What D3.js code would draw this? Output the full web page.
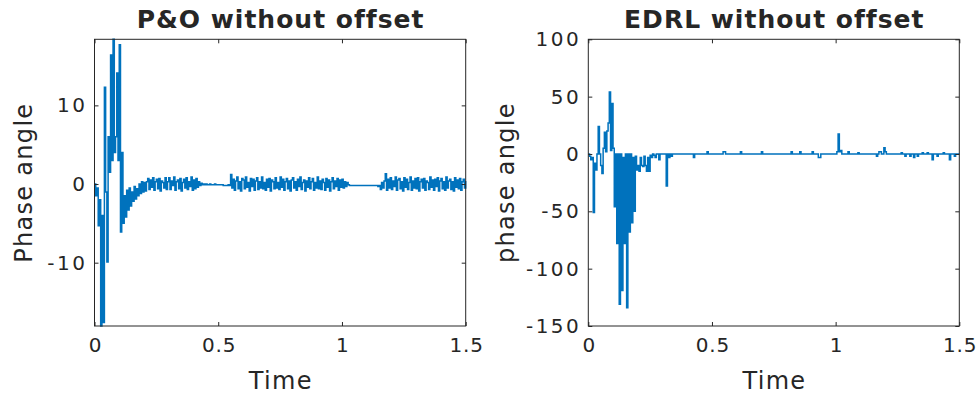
<!DOCTYPE html>
<html>
<head>
<meta charset="utf-8">
<script src="https://cdn.jsdelivr.net/npm/d3@7"></script>
<style>
  body { margin: 0; background: #fff; }
  text { font-family: 'DejaVu Sans', sans-serif; fill: #262626; }
</style>
</head>
<body>
<svg id="chart" width="978" height="398"></svg>
<script>
// sampled every 5 ms, t = 0 .. 1.5 s
const sampleStep = 0.005;
const timeTicks = [0, 0.5, 1, 1.5];
const poTicks = [-10, 0, 10];
const edrlTicks = [-150, -100, -50, 0, 50, 100];

const poPhase = [
  0, -1.5, -0.5, -5.3, -2, -18.05, -4, -17.6, 12.3, -1, -9.9, 6, 1.5, 16.4, 3, 18.4, 4, 6, 14.1, 3,
  17.7, -6.1, 4, -5, -1.5, -4.2, -0.8, -3.3, -0.5, -2.8, -1, -2.2, -0.3, -1.9, -0.6, -1.5, 0, -1.2, 0.3, -1,
  0.2, -0.9, 0.3, 0.7, -0.7, 0.5, -0.4, 0.8, -0.8, 0.3, 0.6, -0.6, 0.7, -0.9, 0.4, 0.2, -0.5, 0.8, -0.7, 0.3,
  0.8, -0.7, 0.4, -0.2, 0.9, -0.8, 0.3, 0.5, -0.6, 0.7, -0.9, 0.2, 0.6, -0.5, 0.8, -0.7, 0.3, -0.3, 0.9, -0.8,
  0.5, -0.6, 0.7, -0.4, 0.3, -0.2, 0.1, -0.1, 0, -0.1, 0, -0.1, -0.1, 0, -0.1, -0.1, -0.1, 0, -0.1, -0.1,
  -0.1, -0.1, -0.1, -0.1, -0.2, -0.2, -0.2, -0.2, -0.1, -0.2, 1.2, -0.5, 0.6, -0.8, 0.4, 0.9, -0.6, 0.3, -0.9, 0.7,
  0.5, -0.6, 0.9, -0.4, 0.2, -0.9, 0.7, -0.3, 0.6, -0.8, 0.4, 0.8, -0.7, 0.3, -0.5, 0.9, -0.6, 0.2, -0.8, 0.6,
  -0.4, 0.7, -0.9, 0.5, 0.3, -0.6, 0.8, -0.5, 0.2, -0.7, 0.9, -0.4, 0.6, -0.8, 0.3, 0.7, -0.6, 0.4, -0.9, 0.5,
  0.8, -0.5, 0.3, -0.8, 0.6, -0.3, 0.9, -0.7, 0.2, 0.5, -0.9, 0.4, -0.4, 0.8, -0.6, 0.3, 0.7, -0.8, 0.2, -0.5,
  0.9, -0.6, 0.4, -0.7, 0.6, 0.2, -0.8, 0.7, -0.4, 0.5, -0.9, 0.3, 0.8, -0.6, 0.4, -0.3, 0.7, -0.8, 0.5, -0.4,
  0.6, -0.5, 0.3, -0.3, 0.2, -0.1, -0.2, -0.2, -0.2, -0.2, -0.2, -0.2, -0.2, -0.2, -0.2, -0.2, -0.2, -0.2, -0.2, -0.2,
  -0.2, -0.2, -0.2, -0.2, -0.2, -0.2, -0.2, -0.2, -0.2, -0.3, -0.2, -0.7, 0.2, -0.5, 0.4, 1.3, -0.8, 0.6, -0.5, 0.8,
  -0.7, 0.4, -0.3, 0.9, -0.8, 0.5, 0.7, -0.6, 0.3, -0.9, 0.8, -0.4, 0.6, -0.7, 0.2, 0.9, -0.8, 0.4, -0.5, 0.7,
  -0.6, 0.8, -0.9, 0.3, 0.6, -0.5, 0.7, -0.8, 0.4, 0.2, -0.7, 0.9, -0.4, 0.5, -0.8, 0.6, -0.3, 0.8, -0.9, 0.4,
  0.7, -0.6, 0.3, -0.8, 0.9, -0.5, 0.4, 0.6, -0.7, 0.3, -0.9, 0.8, -0.4, 0.5, -0.6, 0.7, -0.8, 0.3, 0.6, -0.5,
  0.4,
];

const edrlPhase = [
  0, -2, -5, -3, -51, -8, -14, 0, 24, 0, -10, -17, 5, 19, 2, 20, 27, 54, 3, 44,
  5, -46, 0, -78, 0, -131, 0, -119, -3, -78, 0, -134, 0, -68, 0, -60, -3, -50, -2, -14,
  -10, -15, -3, -10, -11, -2, -10, -15, -3, -15, -1, -3, 0, -1, -3, 0, 0, -5, 0, 0,
  0, 0, 0, -28, 0, -3, 0, -2, 0, 0, 0, 0, 0, 0, 0, 0, 0, 0, 0, 0,
  0, 0, 0, 0, 0, -3, 0, 0, 0, 0, 0, 0, 0, 0, 0, 0, 2, 0, 0, 0,
  0, 0, 0, 0, 0, 0, 0, 0, 0, 2, 2, 0, 0, 0, 0, 0, 0, 0, 0, 0,
  0, 0, 0, 2, 0, 0, 0, 0, 0, 0, 0, 0, 0, 0, 0, 0, 0, 0, 0, 0,
  2, 0, 0, 0, 0, 0, 0, 0, 0, 0, 0, 0, 0, 0, 0, 0, 0, 0, 0, 0,
  0, 0, 0, 0, 2, 0, 0, 0, 0, 0, 0, 2, 0, 0, 0, 0, 0, 0, 0, 0,
  0, 2, 0, 0, 0, 0, -3, -3, 0, 0, 0, 0, 0, 0, 0, 0, 0, 0, 0, 0,
  0, 2, 17.5, 2, 3, 0, 0, 0, 0, 0, 2, 0, 0, 0, 0, 0, 0, 0, 1, 0,
  0, 0, 0, 0, 0, 0, 0, 0, 0, 0, 0, 0, 0, -2, 0, 2, 2, 0, 0, 5.5,
  2, 0, 0, 0, 0, 0, 0, 0, 0, 0, 0, 0, 0, 1, 0, 0, -2, 0, 0, 0,
  -2, 0, 0, -3, 0, 0, -2, 0, 0, 0, 1, 0, 0, 0, 1, 0, 0, 0, -5, 0,
  0, 0, -2, 0, 0, 0, 0, 1, 0, 0, 0, 0, -5, 0, 0, 0, -2, 0, 0, 0,
  0,
];

const lineColor = '#0072bd';
const axisColor = '#262626';
const tickFont = 20;
const yTickSpacing = 2.5;
const xTickSpacing = 0.8;
const labelFont = 24;
const labelSpacing = 1.3;
const titleFont = 25;
const titleSpacing = 1;
const tickLen = 4;
const plotTop = 39.3;
const plotBottom = 326;

const svg = d3.select('#chart');

const formatTick = (d) => String(d);

function styleTicks(axis, spacing) {
  axis.select('.domain').remove();
  axis.selectAll('line').attr('stroke', axisColor);
  axis.selectAll('text')
    .attr('fill', axisColor)
    .style('font-size', `${tickFont}px`)
    .style('letter-spacing', `${spacing}px`)
    .style('font-family', "'DejaVu Sans', sans-serif");
}

function drawPanel(panel) {
  const x = d3.scaleLinear().domain([0, 1.5]).range([panel.left, panel.right]);
  const y = d3.scaleLinear().domain(panel.yDomain).range([plotBottom, plotTop]);
  const g = svg.append('g');

  // the trace first, the box on top of it
  const line = d3.line()
    .x((v, i) => x(i * sampleStep))
    .y((v) => y(v))
    .curve(d3.curveStepAfter);

  g.append('path')
    .datum(panel.values)
    .attr('d', line)
    .attr('fill', 'none')
    .attr('stroke', lineColor)
    .attr('stroke-width', 1.5);

  const bottom = g.append('g')
    .attr('transform', `translate(0,${plotBottom})`)
    .call(d3.axisBottom(x).tickValues(timeTicks).tickFormat(formatTick).tickSizeInner(-tickLen).tickSizeOuter(0).tickPadding(12));
  const top = g.append('g')
    .attr('transform', `translate(0,${plotTop})`)
    .call(d3.axisTop(x).tickValues(timeTicks).tickFormat('').tickSizeInner(-tickLen).tickSizeOuter(0));
  const left = g.append('g')
    .attr('transform', `translate(${panel.left},0)`)
    .call(d3.axisLeft(y).tickValues(panel.yTicks).tickFormat(formatTick).tickSizeInner(-tickLen).tickSizeOuter(0).tickPadding(7));
  const right = g.append('g')
    .attr('transform', `translate(${panel.right},0)`)
    .call(d3.axisRight(y).tickValues(panel.yTicks).tickFormat('').tickSizeInner(-tickLen).tickSizeOuter(0));

  styleTicks(bottom, xTickSpacing);
  styleTicks(top, xTickSpacing);
  styleTicks(left, yTickSpacing);
  styleTicks(right, yTickSpacing);
  // letter-spacing trails the last glyph, so shift centred labels back
  bottom.selectAll('text').attr('dx', xTickSpacing / 2);

  g.append('rect')
    .attr('x', panel.left)
    .attr('y', plotTop)
    .attr('width', panel.right - panel.left)
    .attr('height', plotBottom - plotTop)
    .attr('fill', 'none')
    .attr('stroke', axisColor)
    .attr('stroke-width', 1);

  const mid = (panel.left + panel.right) / 2;

  g.append('text')
    .attr('x', mid + titleSpacing / 2)
    .attr('y', 28)
    .attr('text-anchor', 'middle')
    .attr('font-weight', 'bold')
    .attr('font-size', titleFont)
    .style('letter-spacing', `${titleSpacing}px`)
    .text(panel.title);

  g.append('text')
    .attr('x', mid + labelSpacing / 2)
    .attr('y', 389)
    .attr('text-anchor', 'middle')
    .attr('font-size', labelFont)
    .style('letter-spacing', `${labelSpacing}px`)
    .text('Time');

  g.append('text')
    .attr('transform', `translate(${panel.yLabelX},${(plotTop + plotBottom) / 2}) rotate(-90)`)
    .attr('text-anchor', 'middle')
    .attr('font-size', labelFont)
    .style('letter-spacing', `${labelSpacing}px`)
    .text(panel.yLabel);
}

drawPanel({
  left: 94.5,
  right: 465.7,
  yDomain: d3.extent(poPhase),
  yTicks: poTicks,
  values: poPhase,
  title: 'P&O without offset',
  yLabel: 'Phase angle',
  yLabelX: 32,
});

drawPanel({
  left: 588.3,
  right: 959.3,
  yDomain: [-150, 100],
  yTicks: edrlTicks,
  values: edrlPhase,
  title: 'EDRL without offset',
  yLabel: 'phase angle',
  yLabelX: 514,
});
</script>
</body>
</html>
